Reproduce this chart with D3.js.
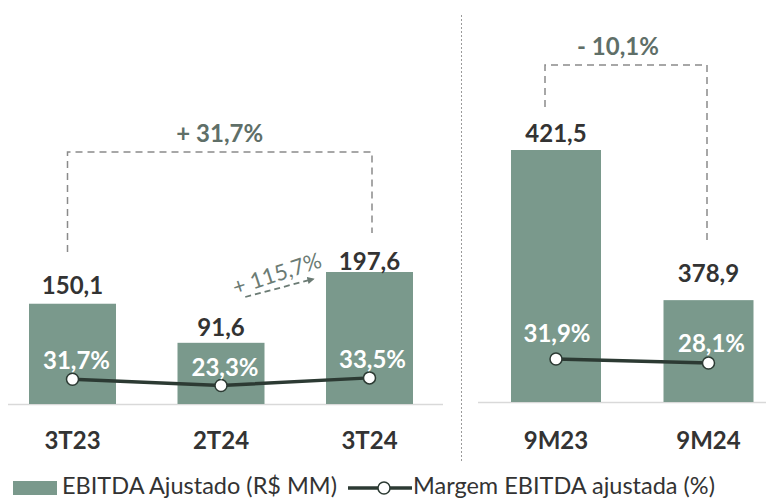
<!DOCTYPE html>
<html>
<head>
<meta charset="utf-8">
<script src="https://cdn.jsdelivr.net/npm/d3@7"></script>
<style>
  html, body { margin: 0; padding: 0; background: #fff; }
  svg { display: block; font-family: Lato, "Open Sans", sans-serif; }
</style>
</head>
<body>
<svg id="chart" width="766" height="499"></svg>
<script>
/* data */
const quarterCats = ["3T23", "2T24", "3T24"];
const quarterEbitda = [150.1, 91.6, 197.6];
const quarterMargin = [31.7, 23.3, 33.5];

const ytdCats = ["9M23", "9M24"];
const ytdEbitda = [421.5, 378.9];
const ytdMargin = [31.9, 28.1];

const quarterChange = ["+ 31,7%", "3T23", "3T24"];
const ytdChange = ["- 10,1%", "9M23", "9M24"];
const qoqChange = "+ 115,7%";

const legendLabels = ["EBITDA Ajustado (R$ MM)", "Margem EBITDA ajustada (%)"];

/* styles */
const barColor = "#7a998c";
const lineColor = "#2c3a33";
const labelColor = "#333333";
const changeColor = "#5f6f68";
const axisColor = "#d9d9d9";
const fmt = v => String(v).replace(".", ",");

const svg = d3.select("#chart");

/* one panel = bars + margin line + labels */
function drawPanel(cfg) {
    const x = d3.scalePoint().domain(cfg.cats).range(cfg.xRange);
    const y = d3.scaleLinear().domain(cfg.yDomain).range(cfg.yRange);
    const m = d3.scaleLinear().domain([0, 100]).range(cfg.mRange);
    const base = cfg.yRange[0];

    const rows = cfg.cats.map((c, i) => ({ cat: c, v: cfg.values[i], p: cfg.margins[i], i: i }));

    // baseline
    svg.append("line")
        .attr("x1", cfg.axisX[0]).attr("x2", cfg.axisX[1])
        .attr("y1", base + 0.5).attr("y2", base + 0.5)
        .style("stroke", axisColor)
        .style("stroke-width", 1.5);

    // bars
    svg.selectAll(".bar-" + cfg.id).data(rows)
        .enter().append("rect")
        .attr("class", "bar-" + cfg.id)
        .attr("x", d => x(d.cat) - cfg.barWidth / 2)
        .attr("width", cfg.barWidth)
        .attr("y", d => y(d.v))
        .attr("height", d => base - y(d.v))
        .style("fill", barColor);

    // value labels above bars
    svg.selectAll(".val-" + cfg.id).data(rows)
        .enter().append("text")
        .attr("class", "val-" + cfg.id)
        .attr("x", d => x(d.cat))
        .attr("y", d => y(d.v) - cfg.valNudge[d.i])
        .attr("text-anchor", "middle")
        .style("font-size", "24px")
        .style("font-weight", "700")
        .style("fill", labelColor)
        .text(d => fmt(d.v));

    // category labels
    svg.selectAll(".cat-" + cfg.id).data(rows)
        .enter().append("text")
        .attr("class", "cat-" + cfg.id)
        .attr("x", d => x(d.cat))
        .attr("y", 449)
        .attr("text-anchor", "middle")
        .style("font-size", "24px")
        .style("font-weight", "700")
        .style("fill", labelColor)
        .text(d => d.cat);

    // margin line
    const line = d3.line().x(d => x(d.cat)).y(d => m(d.p));
    svg.append("path")
        .datum(rows)
        .attr("d", line)
        .style("fill", "none")
        .style("stroke", lineColor)
        .style("stroke-width", 3.5);

    svg.selectAll(".dot-" + cfg.id).data(rows)
        .enter().append("circle")
        .attr("class", "dot-" + cfg.id)
        .attr("cx", d => x(d.cat))
        .attr("cy", d => m(d.p))
        .attr("r", 6)
        .style("fill", "#fff")
        .style("stroke", lineColor)
        .style("stroke-width", 1.5);

    // margin labels (white)
    svg.selectAll(".pct-" + cfg.id).data(rows)
        .enter().append("text")
        .attr("class", "pct-" + cfg.id)
        .attr("x", d => x(d.cat) + cfg.pctShift[d.i])
        .attr("y", d => m(d.p) - cfg.pctNudge[d.i])
        .attr("text-anchor", "middle")
        .style("font-size", "24px")
        .style("font-weight", "700")
        .style("fill", "#fff")
        .text(d => fmt(d.p) + "%");

    // dashed bracket for the change
    const ch = cfg.change;
    const bx1 = x(ch[1]) + cfg.bracket.dx[0];
    const bx2 = x(ch[2]) + cfg.bracket.dx[1];
    const by = cfg.bracket.top;
    svg.append("path")
        .attr("d", "M" + bx1 + "," + cfg.bracket.ends[0] + "V" + by + "H" + bx2 + "V" + cfg.bracket.ends[1])
        .style("fill", "none")
        .style("stroke", "#8a8a8a")
        .style("stroke-width", 1.5)
        .style("stroke-dasharray", "7,5");

    svg.append("text")
        .attr("x", (bx1 + bx2) / 2 + cfg.bracket.labelDx)
        .attr("y", by - 10)
        .attr("text-anchor", "middle")
        .style("font-size", "24px")
        .style("font-weight", "700")
        .style("fill", changeColor)
        .text(ch[0]);

    return x;
}

const xq = drawPanel({
    id: "q", cats: quarterCats, values: quarterEbitda, margins: quarterMargin,
    xRange: [72.5, 369.5], barWidth: 87,
    yDomain: [0, 197.6], yRange: [404, 272],
    mRange: [403, 328],
    axisX: [8, 443],
    valNudge: [10, 7, 2],
    pctNudge: [10, 10, 10], pctShift: [4, 4, 3],
    change: quarterChange,
    bracket: { dx: [-5, 2.5], top: 152, ends: [252, 233], labelDx: 0 }
});

drawPanel({
    id: "y", cats: ytdCats, values: ytdEbitda, margins: ytdMargin,
    xRange: [556, 708.5], barWidth: 90,
    yDomain: [350, 421.5], yRange: [402, 150],
    mRange: [392.5, 287.5],
    axisX: [478, 766],
    valNudge: [8, 18],
    pctNudge: [17, 11], pctShift: [1, 3],
    change: ytdChange,
    bracket: { dx: [-11, -1.5], top: 65, ends: [107, 245], labelDx: -8 }
});

/* quarter-on-quarter arrow between 2T24 and 3T24 */
const qx = (xq("2T24") + xq("3T24")) / 2;
const defs = svg.append("defs");
defs.append("marker")
    .attr("id", "arrow")
    .attr("viewBox", "0 0 10 10")
    .attr("refX", 8).attr("refY", 5)
    .attr("markerWidth", 4).attr("markerHeight", 4)
    .attr("orient", "auto")
    .append("path")
    .attr("d", "M0,0L10,5L0,10Z")
    .style("fill", "#6b7b74");

svg.append("line")
    .attr("x1", qx - 50).attr("y1", 297)
    .attr("x2", qx + 18).attr("y2", 279)
    .style("stroke", "#6b7b74")
    .style("stroke-width", 1.8)
    .style("stroke-dasharray", "6,4")
    .attr("marker-end", "url(#arrow)");

svg.append("text")
    .attr("transform", "translate(" + (qx - 16) + ",281) rotate(-18)")
    .attr("text-anchor", "middle")
    .style("font-size", "22px")
    .style("font-weight", "400")
    .style("fill", "#6b7b74")
    .text(qoqChange);

/* divider between the two panels */
svg.append("line")
    .attr("x1", 461.5).attr("x2", 461.5)
    .attr("y1", 15).attr("y2", 463)
    .style("stroke", "#9a9a9a")
    .style("stroke-width", 1)
    .style("stroke-dasharray", "2,2");

/* legend */
const legend = svg.append("g").attr("class", "legend");
legend.append("rect")
    .attr("x", 13).attr("y", 481)
    .attr("width", 44).attr("height", 14)
    .style("fill", barColor);
legend.append("text")
    .attr("x", 62).attr("y", 494)
    .style("font-size", "23.5px")
    .style("fill", labelColor)
    .text(legendLabels[0]);
legend.append("line")
    .attr("x1", 348).attr("x2", 412)
    .attr("y1", 488).attr("y2", 488)
    .style("stroke", lineColor)
    .style("stroke-width", 3.5);
legend.append("circle")
    .attr("cx", 384).attr("cy", 488).attr("r", 6)
    .style("fill", "#fff")
    .style("stroke", lineColor)
    .style("stroke-width", 1.5);
legend.append("text")
    .attr("x", 413).attr("y", 494)
    .style("font-size", "23.5px")
    .style("fill", labelColor)
    .text(legendLabels[1]);
</script>
</body>
</html>
